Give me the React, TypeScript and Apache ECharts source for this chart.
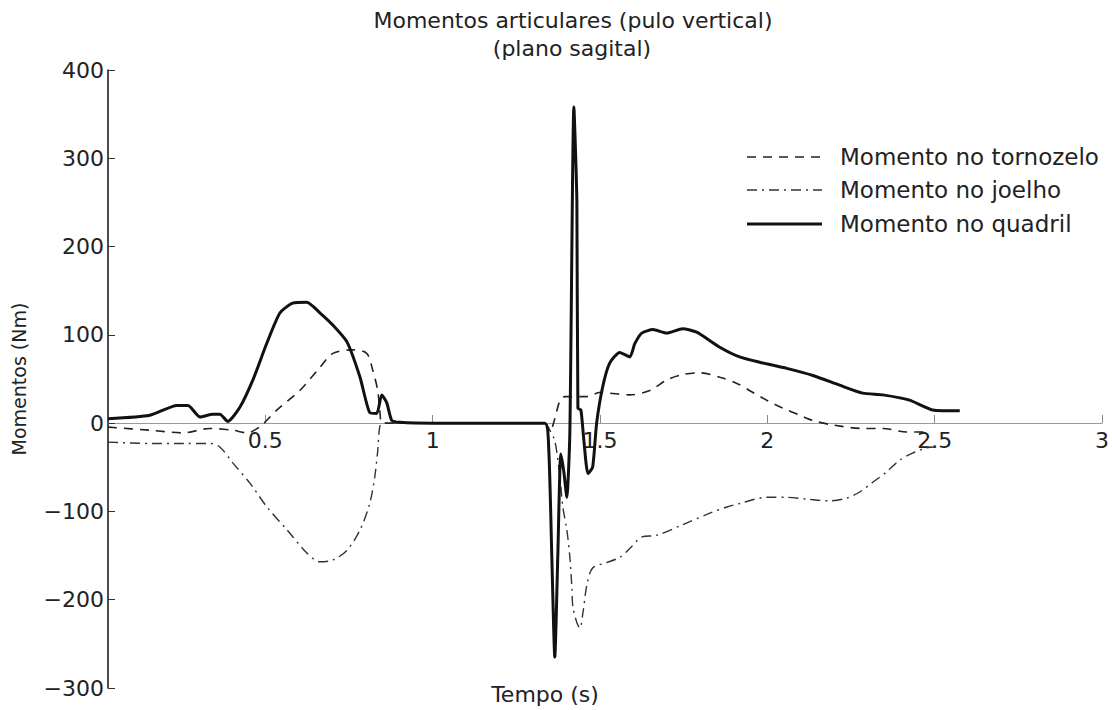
import React, { useEffect, useRef } from "react";
import * as echarts from "echarts";

// Momento no quadril (hip) — solid
const hipTime = [0.03, 0.155, 0.236, 0.269, 0.305, 0.343, 0.364, 0.388, 0.424, 0.463, 0.505, 0.544, 0.582, 0.624, 0.663, 0.702, 0.744, 0.783, 0.812, 0.833, 0.848, 0.863, 0.878, 0.902, 1.0, 1.2, 1.335, 1.347, 1.356, 1.365, 1.374, 1.383, 1.392, 1.401, 1.41, 1.422, 1.431, 1.434, 1.443, 1.452, 1.464, 1.478, 1.49, 1.508, 1.529, 1.559, 1.589, 1.604, 1.625, 1.658, 1.7, 1.747, 1.789, 1.858, 1.917, 1.977, 2.058, 2.136, 2.216, 2.285, 2.345, 2.425, 2.494, 2.575];
const hipValue = [5, 9, 20, 20, 7, 10, 10, 2, 18, 49, 91, 125, 136, 137, 125, 111, 92, 52, 12, 11, 32, 23, 3, 1, 0, 0, 0, -30, -150, -265, -150, -35, -55, -84, -10, 358, 250, 17, 15, -20, -57, -50, 0, 41, 68, 80, 75, 90, 102, 106, 102, 107, 103, 86, 75, 69, 62, 54, 43, 34, 32, 26, 15, 14];

// Momento no tornozelo (ankle) — dashed
const ankleTime = [0.03, 0.155, 0.254, 0.335, 0.403, 0.445, 0.484, 0.535, 0.603, 0.663, 0.702, 0.762, 0.803, 0.821, 0.836, 0.842, 0.851, 1.0, 1.2, 1.335, 1.35, 1.365, 1.38, 1.395, 1.461, 1.501, 1.529, 1.589, 1.649, 1.7, 1.747, 1.798, 1.858, 1.909, 1.956, 1.998, 2.046, 2.097, 2.136, 2.195, 2.285, 2.345, 2.416, 2.485];
const ankleValue = [-4.5, -8, -11, -6, -8, -11, -4, 15, 37, 63, 79, 83, 79, 60, 37, 15, 0, 0, 0, 0, -10, 5, 25, 30, 30, 35, 34, 32, 37, 49, 55, 57, 52, 45, 35, 26, 17, 9, 3, -2, -6, -6, -10, -10];

// Momento no joelho (knee) — dash-dot
const kneeTime = [0.03, 0.155, 0.254, 0.335, 0.364, 0.403, 0.454, 0.505, 0.565, 0.624, 0.663, 0.702, 0.744, 0.783, 0.812, 0.827, 0.836, 0.842, 0.851, 1.0, 1.2, 1.335, 1.35, 1.365, 1.38, 1.389, 1.401, 1.41, 1.416, 1.419, 1.431, 1.44, 1.449, 1.461, 1.478, 1.52, 1.559, 1.589, 1.625, 1.67, 1.747, 1.828, 1.879, 1.918, 1.998, 2.058, 2.118, 2.186, 2.237, 2.276, 2.315, 2.357, 2.395, 2.434, 2.476, 2.5];
const kneeValue = [-21.5, -23, -23, -23, -27, -45, -68, -95, -121, -147, -157, -155, -144, -121, -91, -61, -31, -4, 0, 0, 0, 0, -8, -20, -60, -95, -121, -152, -186, -208, -226, -232, -215, -183, -164, -158, -152, -142, -129, -127, -115, -102, -95, -91, -84, -84, -86, -88, -85, -78, -67, -55, -42, -34, -28, -27];

const xTicks = [0.5, 1, 1.5, 2, 2.5, 3];
const seriesNames = ["Momento no tornozelo", "Momento no joelho", "Momento no quadril"];
const titleLines = ["Momentos articulares (pulo vertical)", "(plano sagital)"];

const FONT = "DejaVu Sans";

function pairs(t: number[], v: number[]) {
  return t.map((x, i) => [x, v[i]]);
}

export default function App() {
  const ref = useRef<HTMLDivElement>(null);
  useEffect(() => {
    if (!ref.current) return;
    const chart = echarts.init(ref.current, null, { renderer: "svg" });
    const legendY = [157, 190, 224];
    const legendStyles: any[] = [
      { stroke: "#222", lineWidth: 1.6, lineDash: [9, 7] },
      { stroke: "#333", lineWidth: 1.4, lineDash: [10, 5, 2, 5] },
      { stroke: "#111", lineWidth: 3 },
    ];
    const graphics: any[] = [
      {
        type: "text",
        x: 573,
        y: 20,
        style: { text: titleLines[0], font: `22px '${FONT}'`, fill: "#222", textAlign: "center", textVerticalAlign: "middle" },
      },
      {
        type: "text",
        x: 572,
        y: 48,
        style: { text: titleLines[1], font: `22px '${FONT}'`, fill: "#222", textAlign: "center", textVerticalAlign: "middle" },
      },
      {
        type: "text",
        x: 545,
        y: 694,
        style: { text: "Tempo (s)", font: `22px '${FONT}'`, fill: "#222", textAlign: "center", textVerticalAlign: "middle" },
      },
    ];
    seriesNames.forEach((name, i) => {
      graphics.push({
        type: "line",
        shape: { x1: 747, y1: legendY[i], x2: 822, y2: legendY[i] },
        style: legendStyles[i],
      });
      graphics.push({
        type: "text",
        x: 840,
        y: legendY[i],
        style: { text: name, font: `23px '${FONT}'`, fill: "#222", textAlign: "left", textVerticalAlign: "middle" },
      });
    });

    chart.setOption({
      animation: false,
      backgroundColor: "#fff",
      grid: { left: 108, right: 10, top: 70, bottom: 22, containLabel: false },
      xAxis: {
        type: "value",
        min: 0.03,
        max: 3,
        position: "bottom",
        offset: -265,
        axisLine: { show: true, onZero: false, lineStyle: { color: "#999", width: 1 } },
        axisTick: { show: true, inside: true, length: 8, customValues: xTicks, lineStyle: { color: "#888" } },
        axisLabel: {
          show: true,
          customValues: xTicks,
          margin: 6,
          color: "#222",
          fontFamily: FONT,
          fontSize: 22,
          formatter: (v: number) => String(v),
        },
        splitLine: { show: false },
      },
      yAxis: {
        type: "value",
        min: -300,
        max: 400,
        interval: 100,
        name: "Momentos (Nm)",
        nameLocation: "middle",
        nameGap: 80,
        nameRotate: 90,
        nameTextStyle: { color: "#222", fontFamily: FONT, fontSize: 19 },
        axisLine: { show: true, lineStyle: { color: "#111", width: 1.5 } },
        axisTick: { show: true, inside: true, length: 7, lineStyle: { color: "#333" } },
        axisLabel: {
          color: "#222",
          fontFamily: FONT,
          fontSize: 22,
          margin: 4,
          formatter: (v: number) => (v < 0 ? "\u2212" + Math.abs(v) : String(v)),
        },
        splitLine: { show: false },
      },
      series: [
        {
          name: seriesNames[0],
          type: "line",
          data: pairs(ankleTime, ankleValue),
          showSymbol: false,
          smooth: 0.3,
          lineStyle: { color: "#222", width: 1.6, type: [9, 7] },
          z: 3,
        },
        {
          name: seriesNames[1],
          type: "line",
          data: pairs(kneeTime, kneeValue),
          showSymbol: false,
          smooth: 0.3,
          lineStyle: { color: "#333", width: 1.4, type: [10, 5, 2, 5] },
          z: 3,
        },
        {
          name: seriesNames[2],
          type: "line",
          data: pairs(hipTime, hipValue),
          showSymbol: false,
          smooth: 0.2,
          lineStyle: { color: "#111", width: 3 },
          z: 4,
        },
      ],
      graphic: graphics,
    });
    return () => chart.dispose();
  }, []);
  return <div ref={ref} style={{ width: 1112, height: 710, position: "absolute", left: 0, top: 0 }} />;
}
